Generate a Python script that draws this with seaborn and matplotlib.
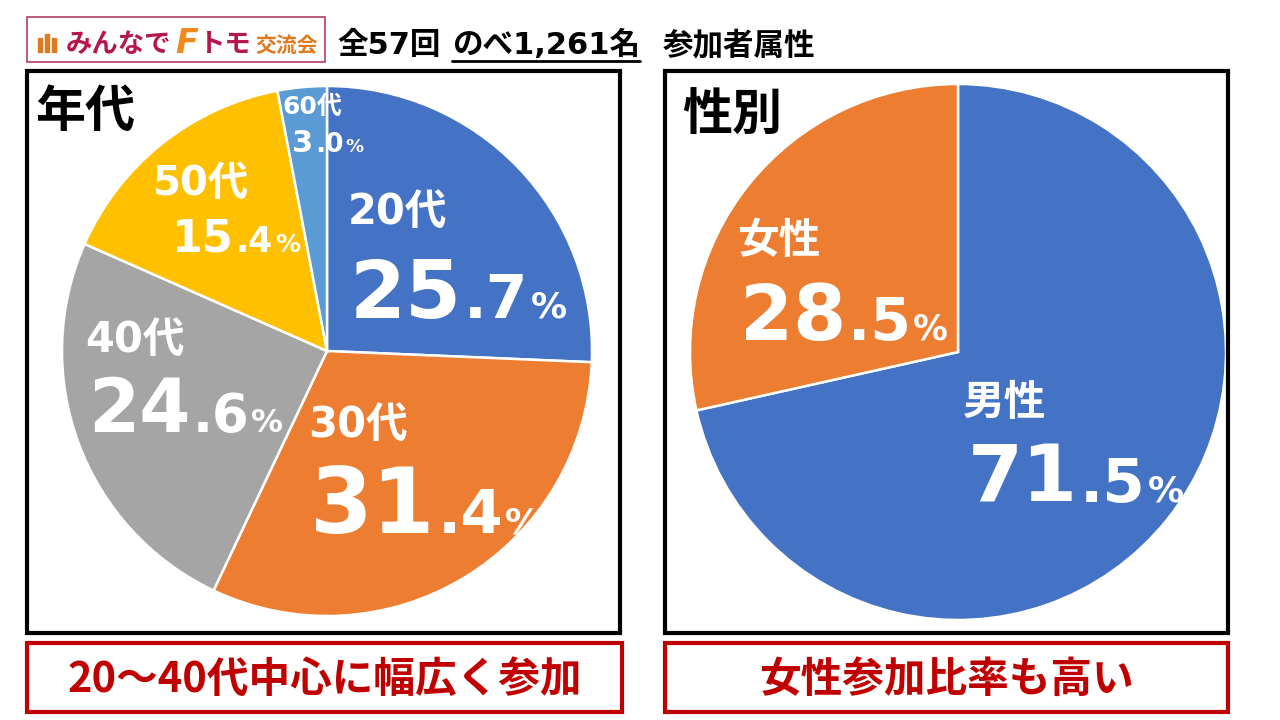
import matplotlib
matplotlib.use("Agg")
import matplotlib.pyplot as plt
from matplotlib.patches import Rectangle
import seaborn as sns

# data
age_labels = ['20代', '30代', '40代', '50代', '60代']
age_shares = [25.7, 31.4, 24.6, 15.4, 3.0]
gender_labels = ['男性', '女性']
gender_shares = [71.5, 28.5]

header_prefix = '全57回'
header_total = 'のべ1,261名'
header_title = '参加者属性'
left_title = '年代'
right_title = '性別'
left_note = '20～40代中心に幅広く参加'
right_note = '女性参加比率も高い'

AGE_COLORS = ['#4472C4', '#ED7D31', '#A5A5A5', '#FFC000', '#5B9BD5']
GENDER_COLORS = ['#4472C4', '#ED7D31']
RED = '#C00000'

# label layout: (name x, name baseline, value x, value baseline, sizes name/int/dec/pct), pixels from top-left
AGE_LAYOUT = [
    (348, 224, 350, 318, (30, 58, 43, 26)),
    (308, 437, 310, 533, (30, 65, 44, 26)),
    (85, 352, 88, 432, (30, 53, 38, 23)),
    (153, 195, 172, 252, (29, 32, 25, 18)),
    (282, 114, 292, 152, (18, 22, 19, 13)),
]
GENDER_LAYOUT = [
    (963, 415, 968, 502, (30, 57, 44, 26)),
    (737, 253, 740, 340, (30, 55, 42, 25)),
]

sns.set_theme(style='white')
FONTS = ['DejaVu Sans', 'Noto Sans CJK JP']
plt.rcParams['font.family'] = FONTS
plt.rcParams['font.weight'] = 'bold'

W, H = 1280, 720
fig = plt.figure(figsize=(12.8, 7.2), dpi=100)
fig.patch.set_facecolor('white')


def fx(x):
    return x / W


def fy(y):
    return (H - y) / H


def box(x0, y0, x1, y1, color, lw):
    fig.add_artist(Rectangle((fx(x0), fy(y1)), fx(x1) - fx(x0), fy(y0) - fy(y1),
                             transform=fig.transFigure, fill=False,
                             edgecolor=color, linewidth=lw, zorder=5))


def pie_axes(cx, cy, r):
    return fig.add_axes([fx(cx - r), fy(cy + r), 2 * r / W, 2 * r / H])


renderer = fig.canvas.get_renderer()


def runs(x, y, parts, color='white', family=FONTS, style='normal', gap=0):
    # draw text pieces left to right on a shared baseline
    for s, size in parts:
        t = fig.text(fx(x), fy(y), s, fontsize=size, color=color, family=family,
                     fontweight='bold', fontstyle=style, va='baseline', ha='left', zorder=6)
        x += t.get_window_extent(renderer).width + gap
    return x


def value_label(layout, name, v):
    nx, ny, vx, vy, (s_name, s_int, s_dec, s_pct) = layout
    runs(nx, ny, [(name, s_name)])
    whole, frac = f'{v:.1f}'.split('.')
    runs(vx, vy, [(whole, s_int), ('.' + frac, s_dec), ('%', s_pct)], gap=2)


def draw_pie(ax, shares, colors):
    ax.pie(shares, colors=colors, startangle=90, counterclock=False,
           radius=1, wedgeprops=dict(edgecolor='white', linewidth=1.8))
    ax.set_xlim(-1, 1)
    ax.set_ylim(-1, 1)
    ax.set_axis_off()


# pies
ax1 = pie_axes(327, 351, 265)
draw_pie(ax1, age_shares, AGE_COLORS)
ax2 = pie_axes(958, 352, 268)
draw_pie(ax2, gender_shares, GENDER_COLORS)

for lay, name, v in zip(AGE_LAYOUT, age_labels, age_shares):
    value_label(lay, name, v)
for lay, name, v in zip(GENDER_LAYOUT, gender_labels, gender_shares):
    value_label(lay, name, v)

# frames
box(27, 71, 620, 633, 'black', 3)
box(665, 71, 1228, 633, 'black', 3)
box(27, 643, 622, 712, RED, 3)
box(665, 643, 1228, 712, RED, 3)

runs(35, 127, [(left_title, 36)], color='black')
runs(682, 131, [(right_title, 36)], color='black')

cjk = ['Noto Sans CJK JP', 'DejaVu Sans']
fig.text(fx(324.5), fy(680), left_note, fontsize=30, color=RED, fontweight='bold',
         family=cjk, ha='center', va='center')
fig.text(fx(946.5), fy(680), right_note, fontsize=30, color=RED, fontweight='bold',
         family=cjk, ha='center', va='center')

# logo
box(27, 17, 325, 62, '#B04060', 1.2)
for i, h in enumerate([14, 18, 14]):
    xp = 38 + i * 7
    fig.add_artist(Rectangle((fx(xp), fy(52)), 4 / W, h / H, transform=fig.transFigure,
                             color='#E07A1F', zorder=6))
xe = runs(66, 52, [('みんなで', 19)], color='#B5164F', family=cjk)
xe = runs(xe + 4, 53, [('F', 24)], color='#F08A1C', style='italic')
xe = runs(xe + 1, 52, [('トモ', 19)], color='#B5164F', family=cjk)
runs(xe + 3, 52, [('交流会', 15)], color='#E07A1F', family=cjk)

# header
xe = runs(337, 54, [(header_prefix, 22)], color='black')
xs = xe + 12
xe = runs(xs, 54, [(header_total, 22)], color='black')
fig.add_artist(plt.Line2D([fx(xs), fx(xe)], [fy(61), fy(61)], transform=fig.transFigure,
                          color='black', linewidth=2))
runs(xe + 22, 54, [(header_title, 22)], color='black')

fig.savefig('out.png', dpi=100, facecolor='white')
